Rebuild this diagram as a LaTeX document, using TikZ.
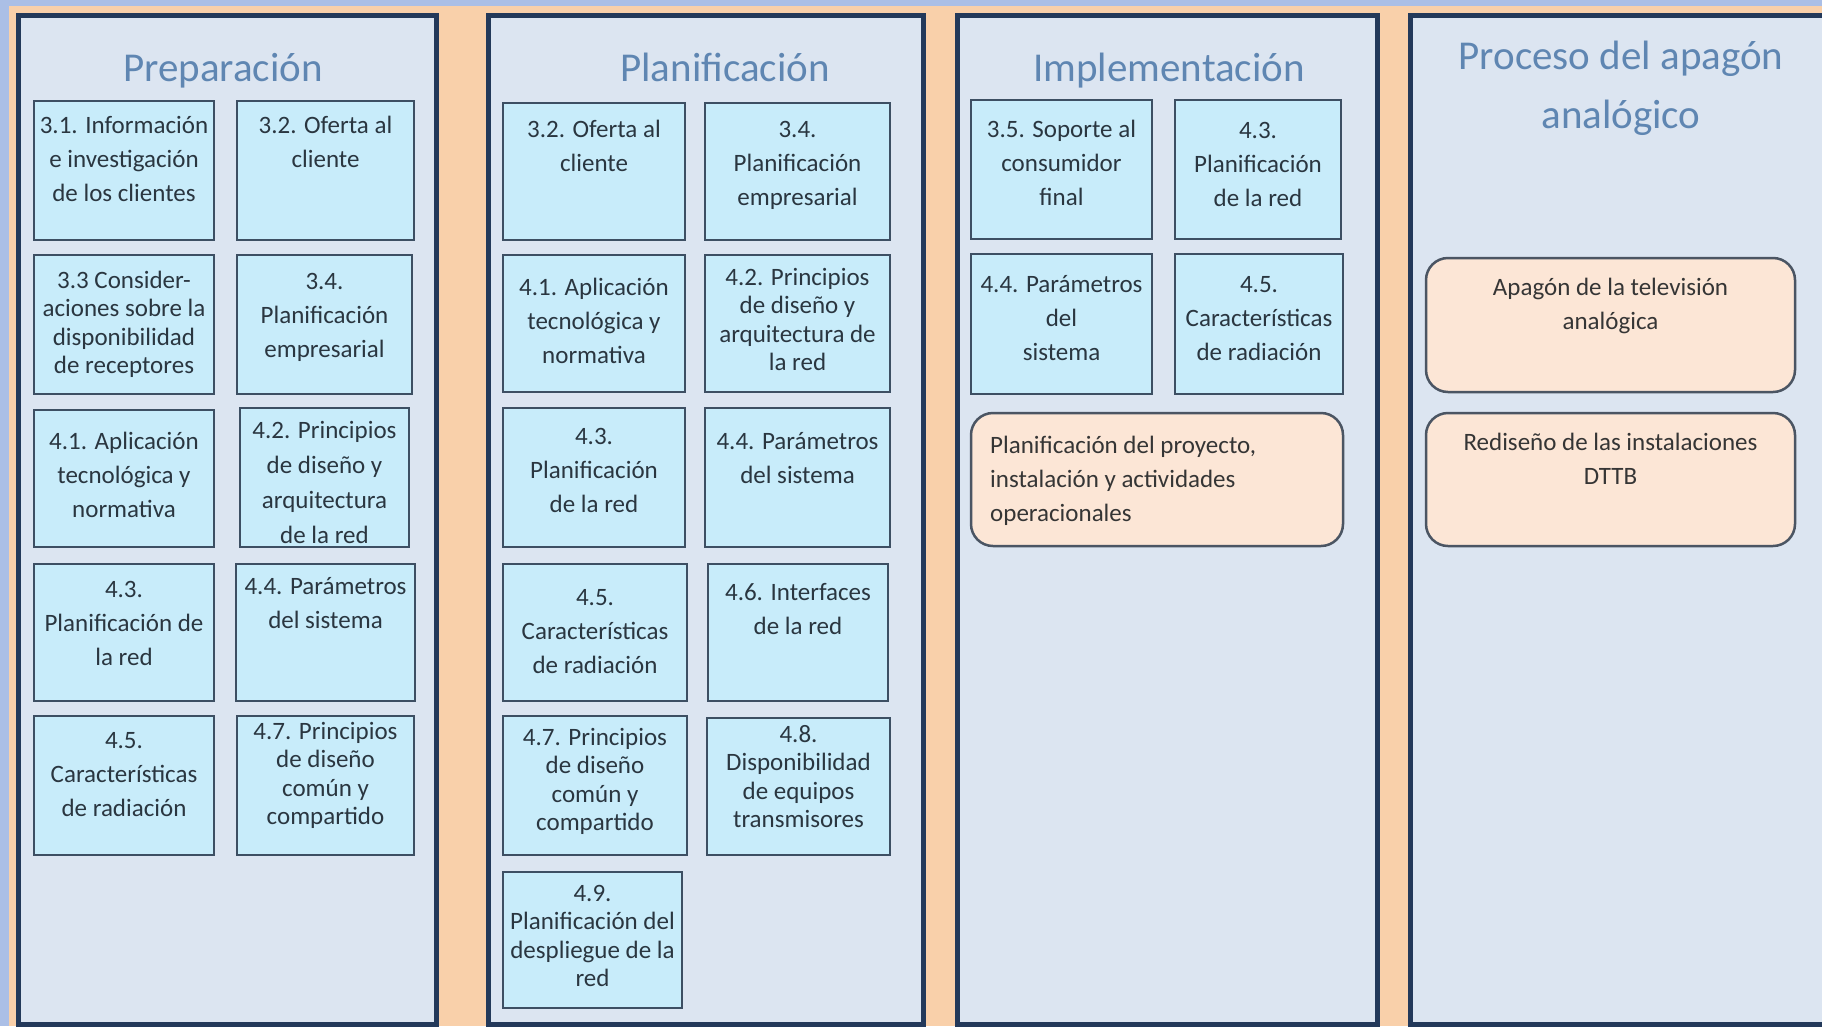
\documentclass[tikz,border=0pt]{standalone}
\usepackage{fontspec}
\setmainfont{Carlito}
\definecolor{outerblue}{HTML}{ABBFE6}
\definecolor{peach}{HTML}{F9D0AA}
\definecolor{panelfill}{HTML}{DCE5F1}
\definecolor{panelborder}{HTML}{23395A}
\definecolor{boxfill}{HTML}{C8ECFA}
\definecolor{boxborder}{HTML}{3D4F63}
\definecolor{boxtextc}{HTML}{2A3640}
\definecolor{rboxfill}{HTML}{FCE6D6}
\definecolor{rboxborder}{HTML}{4B5563}
\definecolor{rtextc}{HTML}{353535}
\definecolor{titlec}{HTML}{5F86B2}
\newcommand\tbox[9]{%
  \node[#6, minimum width={#4-#2}, minimum height={#5-#3}] (#1) at ({(#2+#4)/2},{(#3+#5)/2}) {};
  \node[#6txt, anchor=north, font={\fontsize{25}{#8}\selectfont}] (#1t) at ({(#2+#4)/2},{#3+#7-17}) {\rule{0pt}{20pt}#9};}
\begin{document}
\begin{tikzpicture}[x=1pt,y=-1pt,
  panel/.style={draw=panelborder, line width=5pt, fill=panelfill},
  bbox/.style={draw=boxborder, line width=2.5pt, fill=boxfill, inner sep=0pt, outer sep=0pt},
  obox/.style={draw=rboxborder, line width=2.5pt, fill=rboxfill, rounded corners=22pt, inner sep=0pt, outer sep=0pt},
  bboxtxt/.style={text=boxtextc, align=center, inner sep=0pt},
  oboxtxt/.style={text=rtextc, align=center, inner sep=0pt},
  ptitle/.style={text=titlec, align=center, inner sep=0pt, font={\fontsize{41}{59}\selectfont}}]
\useasboundingbox (0,0) rectangle (1822,1026);
\fill[outerblue] (0,0) rectangle (1822,1026);
\fill[peach] (9,6) rectangle (1822,1026);
% panels
\draw[panel] (18,15) rectangle (436,1024);
\draw[panel] (488,15) rectangle (923,1024);
\draw[panel] (957,15) rectangle (1377,1024);
\draw[panel] (1410,15) rectangle (1850,1024);
% titles
\node[ptitle, anchor=base] (t1) at (223,81) {Preparación};
\node[ptitle, anchor=base] (t2) at (725,81) {Planificación};
\node[ptitle, anchor=base] (t3) at (1169,81) {Implementación};
\node[ptitle, anchor=north] (t4) at (1621,33) {\rule{0pt}{36pt}Proceso del apagón\\analógico};
% panel 1
\tbox{p1a}{34}{101}{214}{240}{bbox}{29}{34}{3.1. Información\\e investigación\\de los clientes}
\tbox{p1b}{237}{101}{414}{240}{bbox}{29}{34}{3.2. Oferta al\\cliente}
\tbox{p1c}{34}{255}{214}{394}{bbox}{30}{28.5}{3.3 Consider-\\aciones sobre la\\disponibilidad\\de receptores}
\tbox{p1d}{237}{255}{412}{394}{bbox}{31}{34}{3.4.\\Planificación\\empresarial}
\tbox{p1e}{34}{410}{214}{547}{bbox}{36}{34}{4.1. Aplicación\\tecnológica y\\normativa}
\tbox{p1f}{240}{408}{409}{547}{bbox}{27}{35}{4.2. Principios\\de diseño y\\arquitectura\\de la red}
\tbox{p1g}{34}{564}{214}{701}{bbox}{30}{34}{4.3.\\Planificación de\\la red}
\tbox{p1h}{236}{564}{415}{701}{bbox}{27}{34}{4.4. Parámetros\\del sistema}
\tbox{p1i}{34}{716}{214}{855}{bbox}{29}{34}{4.5.\\Características\\de radiación}
\tbox{p1j}{237}{716}{414}{855}{bbox}{20}{28.5}{4.7. Principios\\de diseño\\común y\\compartido}
% panel 2
\tbox{p2a}{503}{103}{685}{240}{bbox}{31}{34}{3.2. Oferta al\\cliente}
\tbox{p2b}{705}{103}{890}{240}{bbox}{31}{34}{3.4.\\Planificación\\empresarial}
\tbox{p2c}{503}{255}{685}{392}{bbox}{37}{34}{4.1. Aplicación\\tecnológica y\\normativa}
\tbox{p2d}{705}{255}{890}{392}{bbox}{27}{28.5}{4.2. Principios\\de diseño y\\arquitectura de\\la red}
\tbox{p2e}{503}{408}{685}{547}{bbox}{33}{34}{4.3.\\Planificación\\de la red}
\tbox{p2f}{705}{408}{890}{547}{bbox}{38}{34}{4.4. Parámetros\\del sistema}
\tbox{p2g}{503}{564}{687}{701}{bbox}{38}{34}{4.5.\\Características\\de radiación}
\tbox{p2h}{708}{564}{888}{701}{bbox}{33}{34}{4.6. Interfaces\\de la red}
\tbox{p2i}{503}{716}{687}{855}{bbox}{26}{28.5}{4.7. Principios\\de diseño\\común y\\compartido}
\tbox{p2j}{707}{718}{890}{855}{bbox}{21}{28.5}{4.8.\\Disponibilidad\\de equipos\\transmisores}
\tbox{p2k}{503}{872}{682}{1008}{bbox}{26}{28.5}{4.9.\\Planificación del\\despliegue de la\\red}
% panel 3
\tbox{p3a}{971}{100}{1152}{239}{bbox}{34}{34}{3.5. Soporte al\\consumidor\\final}
\tbox{p3b}{1175}{100}{1341}{239}{bbox}{35}{34}{4.3.\\Planificación\\de la red}
\tbox{p3c}{971}{254}{1152}{394}{bbox}{35}{34}{4.4. Parámetros\\del\\sistema}
\tbox{p3d}{1175}{254}{1343}{394}{bbox}{35}{34}{4.5.\\Características\\de radiación}
\node[obox, minimum width=372, minimum height=133] (p3e) at (1157,479.5) {};
\node[text=rtextc, align=left, inner sep=0pt, anchor=north west, font={\fontsize{25}{34}\selectfont}] (p3et) at (990,433) {\rule{0pt}{20pt}Planificación del proyecto,\\instalación y actividades\\operacionales};
% panel 4
\tbox{p4a}{1426}{258}{1795}{392}{obox}{34}{34}{Apagón de la televisión\\analógica}
\tbox{p4b}{1426}{413}{1795}{546}{obox}{34}{34}{Rediseño de las instalaciones\\DTTB}
\end{tikzpicture}
\end{document}
